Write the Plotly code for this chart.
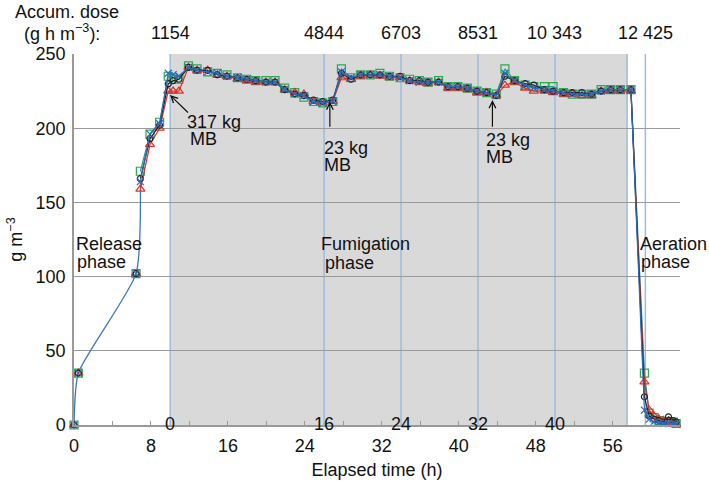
import plotly.graph_objects as go

# ---------------- data ----------------
release_t = [0, 0.45, 6.45, 6.9]
release_v = [0, 35, 102, 165]

time_h = [0, 0.45, 6.45, 6.9, 7.9, 8.9, 9.8, 10.3, 10.9, 11.9, 12.8, 13.9, 14.9, 15.9,
          17.0, 17.95, 18.9, 19.95, 20.9, 21.9, 22.95, 23.9, 24.9, 25.85, 26.9, 27.8,
          28.8, 29.8, 30.8, 31.8, 32.8, 33.9, 34.9, 35.9, 36.8, 37.9, 38.9, 39.9, 40.9,
          41.9, 42.9, 43.9, 44.8, 45.8, 46.9, 47.8, 48.9, 49.8, 50.9, 51.8, 52.8, 53.8,
          54.8, 55.8, 56.8, 57.9, 59.3, 59.8, 60.3, 60.8, 61.3, 61.8, 62.3, 62.6]

green_sq = [0, 35, 102, 171, 196, 204, 235, 234, 233, 242, 240, 238, 237, 236,
            234, 233, 232, 232, 232, 227, 224, 221, 218, 217, 218, 240,
            234, 236, 236, 237, 235, 234, 233, 232, 231, 232, 228, 228, 227,
            225, 224, 223, 240, 232, 229, 228, 228, 228, 224, 223, 223, 223,
            226, 226, 226, 226, 35, 8, 5, 3, 2, 2, 2, 1]
black_ci = [0, 35, 102, 166, 193, 202, 230, 232, 233, 241, 239, 239, 236, 235,
            234, 233, 232, 231, 231, 226, 223, 222, 219, 218, 219, 237,
            233, 236, 236, 236, 235, 235, 232, 232, 231, 231, 228, 228, 227,
            225, 224, 222, 235, 232, 230, 229, 226, 225, 224, 224, 224, 223,
            225, 226, 226, 226, 19, 6, 4, 3, 2, 5.5, 3, 2]
red_tri = [0, 35, 102, 159, 189, 200, 225, 225, 225, 241, 239, 239, 236, 235,
           233, 232, 231, 231, 231, 226, 224, 223, 218, 217, 218, 234,
           233, 235, 236, 235, 234, 234, 232, 231, 230, 231, 227, 227, 226,
           224, 224, 222, 229, 231, 227, 225, 225, 224, 223, 223, 222, 222,
           225, 225, 225, 225, 29, 10, 6, 4, 3, 2, 1, 0.5]
blue_x = [0, 35, 102, 164, 196, 203, 237, 236, 235, 241, 239, 238, 237, 235,
          234, 233, 232, 231, 231, 226, 223, 222, 218, 217, 218, 238,
          234, 236, 236, 236, 235, 234, 232, 231, 231, 231, 228, 228, 227,
          225, 224, 222, 237, 232, 229, 227, 226, 225, 224, 223, 223, 223,
          225, 226, 226, 226, 10, 4, 2, 1.5, 1, 1, 1, 0.5]

# phase boundaries (elapsed h) and accumulated dose labels
boundary_t = [10, 26, 34, 42, 50, 57.5, 59.4]
dose_t = [10, 26, 34, 42, 50, 59.4]
dose_labels = ["1154", "4844", "6703", "8531", "10 343", "12 425"]
fum_tick_t = [10, 26, 34, 42, 50]
fum_tick_labels = ["0", "16", "24", "32", "40"]
x_ticks = [0, 8, 16, 24, 32, 40, 48, 56]
grey_start, grey_end = 10, 57.5

FONT = "Liberation Sans, Arial, Helvetica, sans-serif"
FS = 18
TXT = "#111111"
fig = go.Figure()

# release-phase smooth curve
fig.add_trace(go.Scatter(x=release_t, y=release_v, mode="lines",
                         line=dict(color="#3c78b4", width=1.3, shape="spline", smoothing=0.55),
                         hoverinfo="skip", showlegend=False, cliponaxis=False))

series = [
    ("green", green_sq, "#1f9e86", "#2ea84f", "square-open", 8),
    ("red", red_tri, "#e0302a", "#e0302a", "triangle-up-open", 8),
    ("black", black_ci, "#222222", "#222222", "circle-open", 6),
    ("blue", blue_x, "#2a6cc0", "#2a6cc0", "x-thin-open", 7),
]
start = 3
for name, vals, lc, mc, sym, sz in series:
    fig.add_trace(go.Scatter(x=time_h[:start], y=vals[:start], mode="markers",
                             marker=dict(symbol=sym, size=sz, color=mc, line=dict(width=1.2, color=mc)),
                             showlegend=False, cliponaxis=False))
    fig.add_trace(go.Scatter(x=time_h[start:], y=vals[start:], mode="lines+markers",
                             line=dict(color=lc, width=1.2),
                             marker=dict(symbol=sym, size=sz, color=mc, line=dict(width=1.2, color=mc)),
                             showlegend=False, cliponaxis=False, name=name))

shapes = [dict(type="rect", xref="x", yref="y", x0=grey_start, x1=grey_end, y0=0, y1=250,
               fillcolor="#d9d9d9", line=dict(width=0), layer="below")]
for bt in boundary_t:
    shapes.append(dict(type="line", xref="x", yref="y", x0=bt, x1=bt, y0=0, y1=250,
                       line=dict(color="#9dbcdc", width=1.5), layer="below"))

annotations = []
for xt, lab in zip(dose_t, dose_labels):
    annotations.append(dict(x=xt, y=1.057, xref="x", yref="paper", text=lab, showarrow=False,
                            font=dict(size=FS, color=TXT), xanchor="center", yanchor="middle"))
annotations.append(dict(x=-0.101, y=1.113, xref="paper", yref="paper", text="Accum. dose",
                        showarrow=False, font=dict(size=FS, color=TXT), xanchor="left", yanchor="middle"))
annotations.append(dict(x=-0.0825, y=1.057, xref="paper", yref="paper", text="(g h m<sup>−3</sup>):",
                        showarrow=False, font=dict(size=FS, color=TXT), xanchor="left", yanchor="middle",
                        xshift=-2))
for xt, lab in zip(fum_tick_t, fum_tick_labels):
    annotations.append(dict(x=xt, y=0, xref="x", yref="y", text=lab, showarrow=False,
                            font=dict(size=FS, color=TXT), xanchor="center", yanchor="middle", yshift=1))

# text labels (one line each)
labels = [
    (0.31, 122, "Release"), (0.42, 110, "phase"),
    (25.8, 122, "Fumigation"), (26.2, 109.5, "phase"),
    (58.9, 122, "Aeration"), (59.1, 110, "phase"),
    (11.85, 204.4, "317 kg"), (12.2, 193, "MB"),
    (26.1, 186.5, "23 kg"), (26.1, 175, "MB"),
    (42.95, 192, "23 kg"), (42.95, 180.4, "MB"),
]
for xt, yv, txt in labels:
    annotations.append(dict(x=xt, y=yv, xref="x", yref="y", text=txt, showarrow=False,
                            font=dict(size=FS, color=TXT), xanchor="left", yanchor="middle",
                            xshift=-3))

# arrows (tip x, tip y, tail x, tail y)
for (tx, ty, ax, ay) in [(9.98, 222.4, 12.0, 209.6), (26.6, 217.9, 26.6, 200), (43.5, 219, 43.5, 200)]:
    annotations.append(dict(x=tx, y=ty, ax=ax, ay=ay, xref="x", yref="y", axref="x", ayref="y",
                            text="", showarrow=True, arrowhead=5, arrowsize=1.1, arrowwidth=1.2,
                            arrowcolor=TXT))

fig.update_layout(
    width=709, height=481,
    margin=dict(l=74, r=29, t=54, b=56, autoexpand=False),
    plot_bgcolor="white", paper_bgcolor="white",
    font=dict(family=FONT, size=FS, color=TXT),
    shapes=shapes, annotations=annotations, showlegend=False,
    xaxis=dict(range=[0, 63], tickvals=x_ticks, ticks="inside", ticklen=4, tickcolor="#999",
               minor=dict(dtick=4, tick0=0, ticks="inside", ticklen=4, tickcolor="#999"),
               showgrid=False, zeroline=False, showline=True, linecolor="#999", linewidth=1.5,
               ticklabelstandoff=4, automargin=False,
               title=dict(text="Elapsed time (h)", font=dict(size=FS), standoff=8)),
    yaxis=dict(range=[0, 250], tickvals=[0, 50, 100, 150, 200, 250], showgrid=True,
               gridcolor="#9a9a9a", gridwidth=1, zeroline=False, showline=True, linecolor="#999",
               linewidth=1.5, ticks="", ticklabelstandoff=3, automargin=False,
               title=dict(text="g m<sup>−3</sup>", font=dict(size=FS), standoff=8)),
)

fig.write_html("out.html", config={"displayModeBar": False},
               post_script="document.body.style.margin='0';")
